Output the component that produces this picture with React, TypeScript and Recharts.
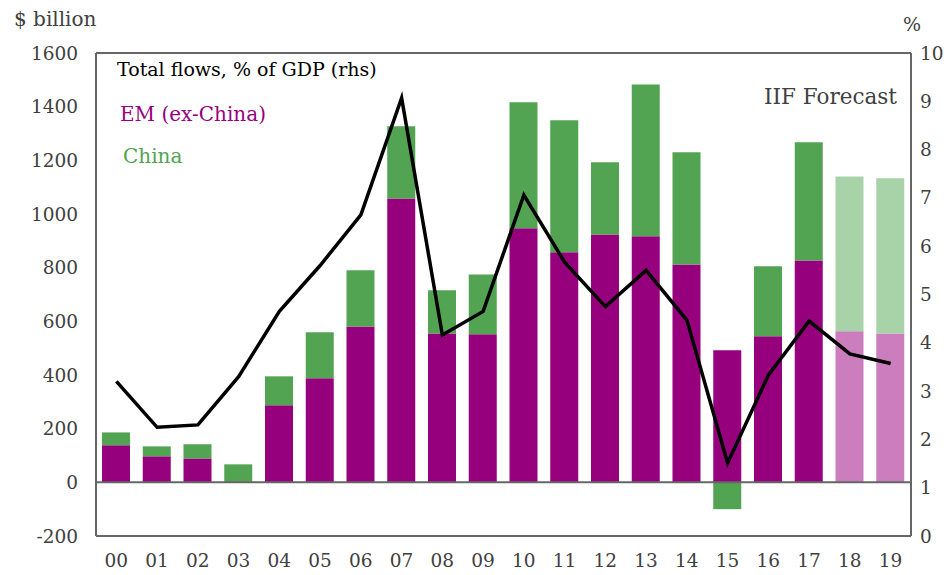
import {
	Bar,
	Cell,
	ComposedChart,
	Line,
	ReferenceLine,
	XAxis,
	YAxis,
} from "recharts";

const years = ["00", "01", "02", "03", "04", "05", "06", "07", "08", "09", "10", "11", "12", "13", "14", "15", "16", "17", "18", "19"];
const emExChina = [138, 97, 89, 0, 287, 388, 581, 1058, 555, 552, 947, 857, 924, 917, 812, 492, 544, 827, 563, 555];
const china = [48, 37, 53, 67, 108, 171, 209, 269, 161, 223, 469, 492, 269, 566, 418, -100, 261, 440, 577, 578];
const totalPctGdp = [3.2, 2.25, 2.3, 3.3, 4.65, 5.6, 6.65, 9.07, 4.16, 4.65, 7.06, 5.67, 4.75, 5.5, 4.47, 1.51, 3.33, 4.45, 3.77, 3.57];
const forecast = ["18", "19"];

const leftTicks = [-200, 0, 200, 400, 600, 800, 1000, 1200, 1400, 1600];
const rightTicks = [0, 1, 2, 3, 4, 5, 6, 7, 8, 9, 10];

const EM = "#96007d";
const EM_LIGHT = "#cc7dbd";
const CN = "#52a352";
const CN_LIGHT = "#a8d3a8";
const FONT = "'DejaVu Serif', serif";
const tickStyle = { fontSize: 18.5, fill: "#404040", fontFamily: FONT };

const data = years.map((y, i) => ({
	year: y,
	em: emExChina[i],
	china: china[i],
	pct: totalPctGdp[i],
}));

export default function App() {
	return (
		<div style={{ position: "absolute", left: 0, top: 0, width: 951, height: 575, background: "#fff" }}>
			<ComposedChart
				width={951}
				height={575}
				data={data}
				stackOffset="sign"
				barSize={28}
				margin={{ top: 53, right: 0, bottom: 0, left: 0 }}
			>
				<XAxis
					dataKey="year"
					height={39}
					tickLine={false}
					tickMargin={12}
					axisLine={{ stroke: "#666", strokeWidth: 2 }}
					tick={tickStyle}
					interval={0}
				/>
				<YAxis
					yAxisId="left"
					width={96}
					domain={[-200, 1600]}
					ticks={leftTicks}
					tickLine={false}
					tickMargin={12}
					axisLine={{ stroke: "#666", strokeWidth: 2 }}
					tick={tickStyle}
				/>
				<YAxis
					yAxisId="right"
					orientation="right"
					width={40}
					domain={[0, 10]}
					ticks={rightTicks}
					tickLine={false}
					tickMargin={3}
					axisLine={{ stroke: "#666", strokeWidth: 2 }}
					tick={tickStyle}
				/>
				<ReferenceLine yAxisId="left" y={1600} stroke="#666" strokeWidth={2} />
				<Bar yAxisId="left" dataKey="em" stackId="a" isAnimationActive={false}>
					{data.map((d) => (
						<Cell key={d.year} fill={forecast.includes(d.year) ? EM_LIGHT : EM} />
					))}
				</Bar>
				<Bar yAxisId="left" dataKey="china" stackId="a" isAnimationActive={false}>
					{data.map((d) => (
						<Cell key={d.year} fill={forecast.includes(d.year) ? CN_LIGHT : CN} />
					))}
				</Bar>
				<ReferenceLine yAxisId="left" y={0} stroke="#666" strokeWidth={2} />
				<Line
					yAxisId="right"
					dataKey="pct"
					type="linear"
					stroke="#000"
					strokeWidth={3.5}
					dot={false}
					isAnimationActive={false}
				/>
			</ComposedChart>
			<div style={{ position: "absolute", left: 14, top: 7, fontFamily: FONT, fontSize: 20, color: "#404040" }}>$ billion</div>
			<div style={{ position: "absolute", left: 903, top: 13, fontFamily: FONT, fontSize: 19, color: "#404040" }}>%</div>
			<div style={{ position: "absolute", left: 117, top: 58, fontFamily: FONT, fontSize: 19, color: "#000" }}>Total flows, % of GDP (rhs)</div>
			<div style={{ position: "absolute", left: 120, top: 102, fontFamily: FONT, fontSize: 20, color: EM }}>EM (ex-China)</div>
			<div style={{ position: "absolute", left: 123, top: 144, fontFamily: FONT, fontSize: 20, color: CN }}>China</div>
			<div style={{ position: "absolute", left: 764, top: 84, fontFamily: FONT, fontSize: 21.5, color: "#404040" }}>IIF Forecast</div>
		</div>
	);
}
